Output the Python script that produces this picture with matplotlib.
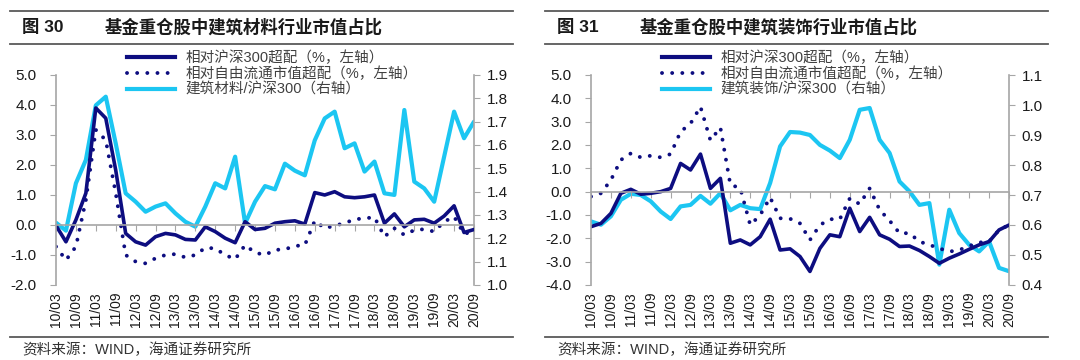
import numpy as np
import matplotlib
matplotlib.use("Agg")
import matplotlib.pyplot as plt
from matplotlib.lines import Line2D

plt.rcParams['font.family'] = ['Liberation Sans', 'Noto Sans CJK SC', 'DejaVu Sans']
plt.rcParams['axes.unicode_minus'] = False

# --- DONNÉES (trimestrielles, 2010/03 -> 2020/09) ---
tick_labels = ['10/03', '10/09', '11/03', '11/09', '12/03', '12/09', '13/03', '13/09',
               '14/03', '14/09', '15/03', '15/09', '16/03', '16/09', '17/03', '17/09',
               '18/03', '18/09', '19/03', '19/09', '20/03', '20/09']

# Fig 30 : 建筑材料
jc_hs300 = [-0.02, -0.56, 0.17, 1.06, 3.9, 3.56, 1.83, -0.28, -0.56, -0.67,
            -0.39, -0.28, -0.33, -0.48, -0.5, -0.06, -0.22, -0.44, -0.59, 0.11,
            -0.15, -0.11, 0.06, 0.11, 0.14, 0.03, 1.08, 1.0, 1.11, 0.94,
            0.91, 0.94, 1.0, 0.06, 0.37, -0.06, 0.17, 0.19, 0.06, 0.3,
            0.64, -0.25, -0.15]
jc_free = [-0.72, -1.17, -0.72, 0.83, 3.17, 2.83, 1.06, -1.0, -1.22, -1.28,
           -1.11, -1.0, -0.97, -1.08, -1.0, -0.76, -0.78, -1.0, -1.14, -0.67,
           -0.92, -1.0, -0.83, -0.81, -0.7, -0.67, 0.14, -0.11, -0.02, 0.06,
           0.19, 0.22, 0.26, -0.39, -0.11, -0.33, -0.17, -0.14, -0.22, 0.11,
           0.28, -0.3, -0.2]
jc_ratio = [1.267, 1.233, 1.436, 1.536, 1.77, 1.807, 1.607, 1.393, 1.357, 1.314,
            1.336, 1.35, 1.307, 1.271, 1.25, 1.336, 1.436, 1.414, 1.55, 1.264,
            1.357, 1.424, 1.41, 1.52, 1.49, 1.47, 1.62, 1.714, 1.743, 1.586,
            1.607, 1.486, 1.529, 1.393, 1.386, 1.75, 1.443, 1.414, 1.357, 1.55,
            1.743, 1.629, 1.70]

# Fig 31 : 建筑装饰
zs_hs300 = [-1.5, -1.36, -0.93, -0.07, 0.1, -0.11, -0.07, 0.0, 0.14, 1.21,
            0.93, 1.61, 0.14, 0.57, -2.21, -2.07, -2.28, -1.93, -1.18, -2.5,
            -2.45, -2.78, -3.42, -2.43, -1.85, -1.93, -0.71, -1.71, -1.1, -1.85,
            -2.04, -2.35, -2.33, -2.52, -2.78, -3.07, -2.85, -2.67, -2.47, -2.28,
            -2.14, -1.64, -1.43]
zs_free = [-0.21, -0.07, 0.5, 1.36, 1.64, 1.47, 1.54, 1.47, 1.61, 2.57,
           2.92, 3.64, 2.2, 2.75, 0.3, 0.15, -1.43, -1.0, -0.25, -1.14,
           -1.16, -1.36, -2.07, -1.43, -1.18, -1.18, -0.29, -0.53, 0.14, -0.78,
           -1.24, -1.78, -1.78, -2.14, -2.28, -2.43, -2.57, -2.5, -2.33, -2.18,
           -2.14, -1.64, -1.43]
zs_ratio = [0.612, 0.601, 0.629, 0.684, 0.704, 0.70, 0.679, 0.645, 0.62, 0.662,
            0.667, 0.697, 0.671, 0.706, 0.649, 0.667, 0.656, 0.653, 0.74, 0.862,
            0.91, 0.908, 0.90, 0.867, 0.848, 0.823, 0.884, 0.984, 0.99, 0.884,
            0.84, 0.745, 0.712, 0.667, 0.673, 0.468, 0.651, 0.573, 0.534, 0.512,
            0.545, 0.457, 0.446]

# --- STYLE ---
navy = "#0D0D80"
cyan = "#1CC6F2"
grey = "#A6A6A6"
txt = "#1A1A1A"
W, H = 1080, 360

fig = plt.figure(figsize=(10.8, 3.6), dpi=100)
fig.patch.set_facecolor("white")


def draw_panel(x0, num, title, name, hs300, free, ratio, ylim_l, yt_l, ylim_r, yt_r):
    # rectangle du graphique en pixels
    left, right, top, bottom = x0 + 56, x0 + 474, 75, 285
    ax = fig.add_axes([left / W, 1 - bottom / H, (right - left) / W, (bottom - top) / H])
    ax2 = ax.twinx()
    ax.set_zorder(ax2.get_zorder() + 1)
    ax.patch.set_visible(False)

    x = np.arange(len(hs300))
    ax2.plot(x, ratio, color=cyan, linewidth=3.0, solid_joinstyle='round', solid_capstyle='round')
    ax.plot(x, hs300, color=navy, linewidth=2.6, solid_joinstyle='round', solid_capstyle='round')
    ax.plot(x, free, color=navy, linewidth=2.8, linestyle=(0, (0.01, 2.6)), dash_capstyle='round')

    ax.set_xlim(0, len(hs300) - 1)
    ax.set_ylim(*ylim_l)
    ax.set_yticks(yt_l)
    ax.set_yticklabels([f"{v:.1f}" for v in yt_l])
    ax2.set_ylim(*ylim_r)
    ax2.set_yticks(yt_r)
    ax2.set_yticklabels([f"{v:.1f}" for v in yt_r])

    for a in (ax, ax2):
        for s in a.spines.values():
            s.set_visible(False)
            s.set_color(grey)
            s.set_linewidth(1.2)
    ax.spines['left'].set_visible(True)
    ax.spines['bottom'].set_visible(True)
    ax.spines['bottom'].set_position(('data', 0))
    ax2.spines['right'].set_visible(True)

    ax.tick_params(axis='y', direction='out', length=4, color=grey, labelsize=11, labelcolor=txt, pad=10)
    ax2.tick_params(axis='y', direction='out', length=4, color=grey, labelsize=11, labelcolor=txt, pad=5)
    ax.set_xticks(x[::2])
    ax.tick_params(axis='x', direction='out', length=4, color=grey, labelbottom=False)

    sec = ax.secondary_xaxis('bottom')
    sec.set_xticks(x[::2])
    sec.set_xticklabels(tick_labels, rotation=90, fontsize=10, color=txt)
    sec.tick_params(length=0, pad=5)
    sec.spines['bottom'].set_visible(False)

    # légende
    handles = [Line2D([], [], color=navy, linewidth=3),
               Line2D([], [], color=navy, linewidth=2.8, linestyle=(0, (0.01, 2.6)), dash_capstyle='round'),
               Line2D([], [], color=cyan, linewidth=3)]
    labels = ['相对沪深300超配（%，左轴）', '相对自由流通市值超配（%，左轴）', f'{name}/沪深300（右轴）']
    fig.legend(handles, labels, loc='upper left', bbox_to_anchor=((x0 + 127) / W, 1 - 51 / H),
               frameon=False, fontsize=10.5, handlelength=3.3, handletextpad=0.7,
               labelspacing=0.1, borderpad=0, borderaxespad=0, labelcolor="#404040")

    # titre, filets et source
    fig.text((x0 + 22) / W, 1 - 27 / H, f"图 {num}", fontsize=12.5, fontweight='bold',
             va='center', color=txt)
    fig.text((x0 + 105) / W, 1 - 27 / H, title, fontsize=12.5, fontweight='bold',
             va='center', color=txt)
    for yy in (11, 44, 337):
        fig.add_artist(Line2D([(x0 + 10) / W, (x0 + 513) / W], [1 - yy / H, 1 - yy / H],
                              color="#595959", linewidth=1.3))
    fig.text((x0 + 22) / W, 1 - 350 / H, "资料来源：WIND，海通证券研究所", fontsize=10.5,
             va='center', color="#333333")


draw_panel(0, 30, "基金重仓股中建筑材料行业市值占比", "建筑材料",
           jc_hs300, jc_free, jc_ratio, (-2, 5), np.arange(-2, 5.01, 1.0),
           (1.0, 1.9), np.arange(1.0, 1.91, 0.1))
draw_panel(535, 31, "基金重仓股中建筑装饰行业市值占比", "建筑装饰",
           zs_hs300, zs_free, zs_ratio, (-4, 5), np.arange(-4, 5.01, 1.0),
           (0.4, 1.1), np.arange(0.4, 1.11, 0.1))

fig.savefig("out.png", dpi=100)
